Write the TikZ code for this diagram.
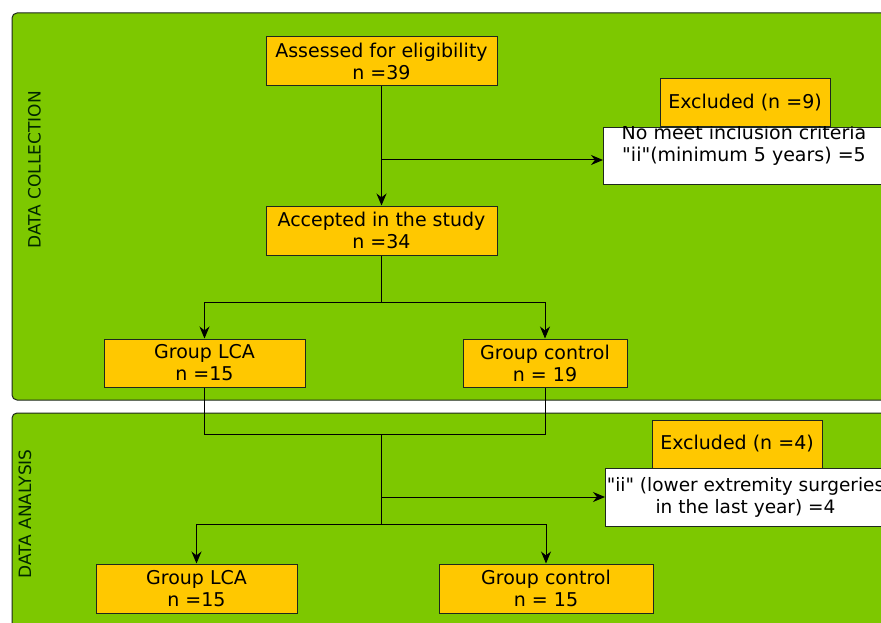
\documentclass[tikz,border=0pt]{standalone}
\usepackage{fontspec}
\setmainfont{DejaVu Sans}
\usetikzlibrary{arrows.meta}
\definecolor{panelgreen}{RGB}{125,200,0}
\definecolor{boxorange}{RGB}{255,200,0}
\definecolor{linedark}{RGB}{30,40,30}
\tikzset{
  panel/.style={draw=linedark, line width=1pt, fill=panelgreen, rounded corners=5pt},
  boxfont/.style={font=\fontsize{19}{22}\selectfont},
  obox/.style={draw=linedark, line width=1pt, fill=boxorange, inner sep=0pt, align=center, boxfont},
  wbox/.style={draw=linedark, line width=1pt, fill=white, inner sep=0pt, align=center, boxfont},
  conn/.style={draw=black, line width=1pt},
  arr/.style={conn, -{Stealth[length=12pt,width=10pt]}},
  lbl/.style={rotate=90, font=\fontsize{17}{18}\selectfont, text=black!85!green}
}
\begin{document}
\begin{tikzpicture}[x=1pt,y=-1pt]
\useasboundingbox (0,0) rectangle (881,623);
\clip (0,0) rectangle (881,623);
\fill[white] (0,0) rectangle (881,623);
% panels
\draw[panel] (12,13) rectangle (900,400);
\draw[panel] (12,413) rectangle (900,640);
\node[lbl] (lc) at (34.5,170) {DATA COLLECTION};
\node[lbl] (la) at (25,514) {DATA ANALYSIS};
% boxes
\node[obox, minimum width=231pt, minimum height=49pt] (assess) at (381.5,61.5) {Assessed for eligibility\\n =39};
\node[obox, minimum width=231pt, minimum height=49pt] (accept) at (381.5,230.5) {Accepted in the study\\n =34};
\node[obox, minimum width=170pt, minimum height=48pt] (excl1) at (745,103) {Excluded (n =9)};
\begin{scope}
\clip (603,127) rectangle (885,184);
\node[wbox, minimum width=282pt, minimum height=57pt, anchor=north west] (note1) at (603,127) {};
\node[anchor=north, boxfont, align=center, inner sep=0pt] (note1t) at (744,124.5) {No meet inclusion criteria\\\textquotedbl ii\textquotedbl(minimum 5 years) =5};
\end{scope}
\node[obox, minimum width=201pt, minimum height=48pt] (lca1) at (204.5,363) {Group LCA\\n =15};
\node[obox, minimum width=164pt, minimum height=48pt] (ctrl1) at (545,363) {Group control\\n = 19};
\node[obox, minimum width=170pt, minimum height=48pt] (excl2) at (737,444) {Excluded (n =4)};
\node[wbox, minimum width=280pt, minimum height=58pt, anchor=west, font=\fontsize{18.5}{22}\selectfont] (note2) at (605,497) {\textquotedbl ii\textquotedbl{} (lower extremity surgeries\\in the last year) =4};
\node[obox, minimum width=201pt, minimum height=49pt] (lca2) at (196.5,588.5) {Group LCA\\n =15};
\node[obox, minimum width=214pt, minimum height=49pt] (ctrl2) at (546,588.5) {Group control\\n = 15};
% connectors
\coordinate (b1) at (381.5,160);
\coordinate (s1) at (381.5,302);
\coordinate (j) at (381.5,434);
\coordinate (b2) at (381.5,497);
\coordinate (s2) at (381.5,524);
\draw[arr] (assess.south) -- (accept.north);
\draw[arr] (b1) -- (b1 -| note1.west);
\draw[conn] (accept.south) -- (s1);
\draw[arr] (s1) -| (lca1.north);
\draw[arr] (s1) -| (ctrl1.north);
\draw[conn] (lca1.south) |- (j);
\draw[conn] (ctrl1.south) |- (j);
\draw[conn] (j) -- (s2);
\draw[arr] (b2) -- (note2.west);
\draw[arr] (s2) -| (lca2.north);
\draw[arr] (s2) -| (ctrl2.north);
\end{tikzpicture}
\end{document}
